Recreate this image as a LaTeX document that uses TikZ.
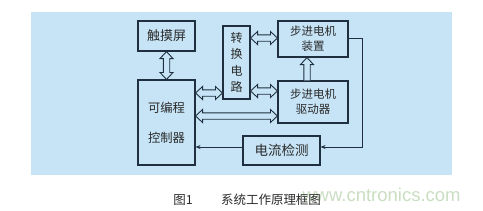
\documentclass[tikz,border=0pt]{standalone}
\usepackage{fontspec}
\setmainfont{Liberation Sans}
\newfontfamily\cjk{Noto Sans CJK SC}
\usetikzlibrary{calc,arrows.meta}
\definecolor{bgblue}{HTML}{C6E4F6}
\definecolor{linec}{HTML}{1F2F3F}
\definecolor{txt}{HTML}{2A2A2A}
\definecolor{wm}{HTML}{C9DEC2}
\begin{document}
\begin{tikzpicture}[x=1pt,y=-1pt,
 box/.style={draw=linec, line width=1.1pt, fill=bgblue, inner sep=0pt, text=txt, align=center},
 hol/.style={draw=linec, line width=0.9pt, fill=bgblue, line join=miter},
 bi/.style={to path={
   -- ($(\tikztostart)!7pt!(\tikztotarget)!6.5pt!90:(\tikztotarget)$)
   -- ($(\tikztostart)!7pt!(\tikztotarget)!3.2pt!90:(\tikztotarget)$)
   -- ($(\tikztotarget)!7pt!(\tikztostart)!3.2pt!-90:(\tikztostart)$)
   -- ($(\tikztotarget)!7pt!(\tikztostart)!6.5pt!-90:(\tikztostart)$)
   -- (\tikztotarget)
   -- ($(\tikztotarget)!7pt!(\tikztostart)!6.5pt!90:(\tikztostart)$)
   -- ($(\tikztotarget)!7pt!(\tikztostart)!3.2pt!90:(\tikztostart)$)
   -- ($(\tikztostart)!7pt!(\tikztotarget)!3.2pt!-90:(\tikztotarget)$)
   -- ($(\tikztostart)!7pt!(\tikztotarget)!6.5pt!-90:(\tikztotarget)$)
   -- cycle}},
 uni/.style={to path={
   ($(\tikztostart)!3.2pt!90:(\tikztotarget)$)
   -- ($(\tikztotarget)!7pt!(\tikztostart)!3.2pt!-90:(\tikztostart)$)
   -- ($(\tikztotarget)!7pt!(\tikztostart)!6.5pt!-90:(\tikztostart)$)
   -- (\tikztotarget)
   -- ($(\tikztotarget)!7pt!(\tikztostart)!6.5pt!90:(\tikztostart)$)
   -- ($(\tikztotarget)!7pt!(\tikztostart)!3.2pt!90:(\tikztostart)$)
   -- ($(\tikztostart)!3.2pt!-90:(\tikztotarget)$)}},
 conn/.style={draw=linec, line width=0.9pt},
]
\useasboundingbox (0,0) rectangle (483,210);
\fill[white] (0,0) rectangle (483,210);
\fill[bgblue] (31,12) rectangle (452,175);

\node[box, minimum width=57pt, minimum height=30pt, font=\cjk\fontsize{13}{15}\selectfont] (touch) at (166.5,36) {触摸屏};
\node[box, minimum width=57pt, minimum height=85pt, font=\cjk\fontsize{12.3}{15}\selectfont] (plc) at (166.5,122.5) {可编程\\[15pt]控制器};
\node[box, minimum width=27pt, minimum height=73pt, font=\cjk\fontsize{12}{16.5}\selectfont] (conv) at (236.5,62.5) {转\\换\\电\\路};
\node[box, minimum width=70pt, minimum height=36pt, font=\cjk\fontsize{11.5}{15}\selectfont] (dev) at (313,39) {步进电机\\装置};
\node[box, minimum width=70pt, minimum height=42pt, font=\cjk\fontsize{11.5}{15}\selectfont] (drv) at (313,102) {步进电机\\驱动器};
\node[box, minimum width=77pt, minimum height=29pt, font=\cjk\fontsize{13.5}{15}\selectfont] (cur) at (281.5,150.5) {电流检测};

\path[hol] (touch.south) to[bi] (plc.north);
\path[hol] (plc.east|-0,93) to[bi] (conv.west|-0,93);
\path[hol] (conv.east|-0,38) to[bi] (dev.west|-0,38);
\path[hol] (conv.east|-0,91) to[bi] (drv.west|-0,91);
\path[hol] (plc.east|-0,116) to[bi] (drv.west|-0,116);
\path[hol] (drv.north-|307,0) to[uni] (dev.south-|307,0);

\coordinate (rc) at (362,147);
\draw[conn,-{Stealth[length=5pt,width=4pt]}] (dev.east|-0,38) -| (rc) -- (cur.east|-rc);
\draw[conn,-{Stealth[length=5pt,width=4pt]}] (cur.west|-rc) -- (plc.east|-rc);

\node[font=\fontsize{18.5}{20}\selectfont, text=wm, inner sep=0pt] (wmk) at (381.5,195) {www.cntronics.com};
\node[font=\cjk\fontsize{12.5}{14}\selectfont, text=txt, inner sep=0pt] (cap1) at (183,200) {图1};
\node[font=\cjk\fontsize{12.5}{14}\selectfont, text=txt, inner sep=0pt] (cap2) at (271,200) {系统工作原理框图};
\end{tikzpicture}
\end{document}
